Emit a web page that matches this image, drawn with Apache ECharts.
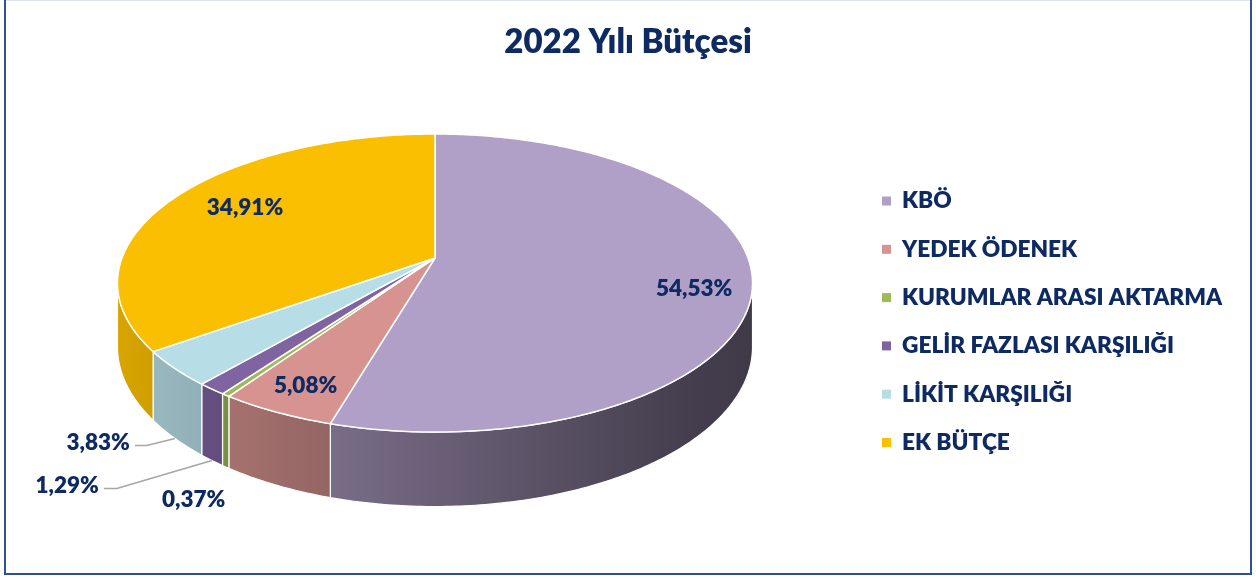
<!DOCTYPE html>
<html><head><meta charset="utf-8">
<script src="https://cdn.jsdelivr.net/npm/echarts@6/dist/echarts.min.js"></script>
<style>html,body{margin:0;padding:0;background:#fff}#c{width:1256px;height:579px}</style>
</head><body><div id="c"></div>
<script>
// ---- data ----
const titleText = '2022 Yılı Bütçesi';
const categories = ['KBÖ', 'YEDEK ÖDENEK', 'KURUMLAR ARASI AKTARMA', 'GELİR FAZLASI KARŞILIĞI', 'LİKİT KARŞILIĞI', 'EK BÜTÇE'];
const values = [54.53, 5.08, 0.37, 1.29, 3.83, 34.91];
const colors = ['#B09FC6', '#D79390', '#9BBB59', '#8064A2', '#B7DDE6', '#FABF00'];

// ---- layout / style (not data) ----
const TEXT = '#0E2A63';
const FONT = 'Lato';
const WEIGHT = 800;
const G = {cx: 435, cy: 258, rx: 313, ry: 144.8, p: 0.168, d0: 62};
const labelLayout = [
  {mode: 'in', f: 0.82, dx: 0, dy: 14},
  {mode: 'in', f: 0.84, dx: 0, dy: 2},
  {mode: 'out', dx: -32, dy: 33},
  {mode: 'line', elbow: [-95, 28], end: -108},
  {mode: 'line', elbow: [-28, 7], end: -40},
  {mode: 'in', f: 0.72, dx: 0, dy: -5}
];

const total = values.reduce((a, b) => a + b, 0);
const starts = [];
(function () { let c = 0; values.forEach(v => { starts.push(c / total * 360); c += v; }); })();

function proj(thetaDeg, f) {
  const t = thetaDeg * Math.PI / 180;
  const u = Math.sin(t) * f, v = -Math.cos(t) * f;
  const s = 1 / (1 - G.p * v);
  return {x: G.cx + G.rx * u * s, y: G.cy + G.ry * v * s, d: G.d0 * s};
}
function arc(a0, a1) {
  const n = Math.max(2, Math.ceil((a1 - a0) / 0.75) + 1);
  const pts = [];
  for (let i = 0; i < n; i++) pts.push(proj(a0 + (a1 - a0) * i / (n - 1), 1));
  return pts;
}
function shade(hex, k) {
  const n = parseInt(hex.slice(1), 16);
  const r = Math.round(((n >> 16) & 255) * k), g = Math.round(((n >> 8) & 255) * k), b = Math.round((n & 255) * k);
  return 'rgb(' + r + ',' + g + ',' + b + ')';
}
function sideFill(hex) {
  const x0 = 110, x1 = 760, stops = [];
  for (let i = 0; i <= 10; i++) {
    const x = x0 + (x1 - x0) * i / 10;
    const k = Math.min(0.88, Math.max(0.36, 0.85 - 0.00082 * (x - 130)));
    stops.push({offset: i / 10, color: shade(hex, k)});
  }
  return new echarts.graphic.LinearGradient(x0, 0, x1, 0, stops, true);
}
const visA = Math.acos(-G.p) * 180 / Math.PI, visB = 360 - visA;
const fmt = v => v.toFixed(2).replace('.', ',') + '%';

const seriesData = values.map((v, i) => ({value: v, name: categories[i]}));

const option = {
  animation: false,
  backgroundColor: '#ffffff',
  title: {
    text: titleText, left: 'center', top: 22, padding: 0,
    textStyle: {fontFamily: FONT, fontWeight: WEIGHT, fontSize: 33, color: TEXT, lineHeight: 40}
  },
  legend: {
    orient: 'vertical', left: 882, top: 189, itemGap: 24.3, padding: 0,
    itemWidth: 9, itemHeight: 9, icon: 'rect',
    data: categories,
    textStyle: {fontFamily: FONT, fontWeight: WEIGHT, fontSize: 22.7, color: TEXT, lineHeight: 24, padding: [0, 0, 0, 6]}
  },
  graphic: [
    {type: 'rect', shape: {x: 5, y: -1, width: 1246, height: 575}, style: {fill: 'none', stroke: '#2F528F', lineWidth: 2}, silent: true, z: 100},
    {type: 'line', shape: {x1: 6, y1: 0.5, x2: 1250, y2: 0.5}, style: {stroke: '#DDE4EF', lineWidth: 1}, silent: true, z: 101}
  ],
  series: [
    { // legend provider (invisible)
      type: 'pie', radius: [0, 0], center: [-50, -50], silent: true, label: {show: false}, labelLine: {show: false},
      data: values.map((v, i) => ({value: v, name: categories[i], itemStyle: {color: colors[i]}}))
    },
    { // side walls
      type: 'custom', coordinateSystem: 'none', silent: true, z: 1, data: seriesData,
      renderItem: function (params, api) {
        const i = params.dataIndex;
        const a0 = starts[i], a1 = a0 + api.value(0) / total * 360;
        const s = Math.max(a0, visA), e = Math.min(a1, visB);
        if (e <= s) return {type: 'group', children: []};
        const top = arc(s, e);
        const pts = top.map(p => [p.x, p.y]).concat(top.slice().reverse().map(p => [p.x, p.y + p.d]));
        return {
          type: 'polygon', shape: {points: pts},
          style: {fill: sideFill(colors[i]), stroke: '#ffffff', lineWidth: 1.2, lineJoin: 'round'}
        };
      }
    },
    { // top faces
      type: 'custom', coordinateSystem: 'none', silent: true, z: 2, data: seriesData,
      renderItem: function (params, api) {
        const i = params.dataIndex;
        const a0 = starts[i], a1 = a0 + api.value(0) / total * 360;
        const pts = [[G.cx, G.cy]].concat(arc(a0, a1).map(p => [p.x, p.y]));
        return {
          type: 'polygon', shape: {points: pts},
          style: {fill: colors[i], stroke: '#ffffff', lineWidth: 1.5, lineJoin: 'round'}
        };
      }
    },
    { // data labels
      type: 'custom', coordinateSystem: 'none', silent: true, z: 3, data: seriesData,
      renderItem: function (params, api) {
        const i = params.dataIndex, v = api.value(0);
        const mid = starts[i] + v / total * 180;
        const L = labelLayout[i];
        const ts = {text: fmt(v), fill: TEXT, fontFamily: FONT, fontWeight: WEIGHT, fontSize: 22.5, verticalAlign: 'middle'};
        if (L.mode === 'in') {
          const p = proj(mid, L.f);
          return {type: 'text', style: Object.assign(ts, {x: p.x + L.dx, y: p.y + L.dy, align: 'center'})};
        }
        const r = proj(mid, 1);
        const ax = r.x, ay = r.y + r.d;
        if (L.mode === 'out') {
          return {type: 'text', style: Object.assign(ts, {x: ax + L.dx, y: ay + L.dy, align: 'center'})};
        }
        const ex = ax + L.elbow[0], ey = ay + L.elbow[1], endX = ax + L.end;
        return {
          type: 'group', children: [
            {type: 'polyline', shape: {points: [[ax, ay], [ex, ey], [endX, ey]]}, style: {stroke: '#A6A6A6', lineWidth: 1.5, fill: null}},
            {type: 'text', style: Object.assign(ts, {x: endX - 5, y: ey - 3, align: 'right'})}
          ]
        };
      }
    }
  ]
};
const chart = echarts.init(document.getElementById('c'), null, {renderer: 'canvas'});
chart.setOption(option);
</script>
</body></html>
